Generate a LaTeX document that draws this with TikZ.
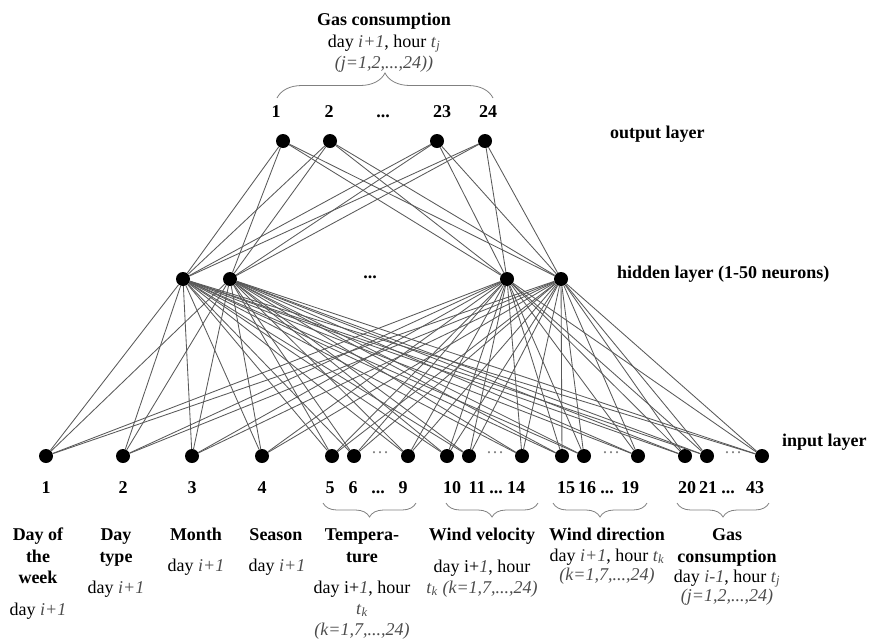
\documentclass[tikz,border=0pt]{standalone}
\usepackage{fontspec}
\setmainfont{Liberation Serif}
\usetikzlibrary{decorations.pathreplacing}
\definecolor{edgegray}{gray}{0.35}
\definecolor{itgray}{gray}{0.3}
\newcommand{\itg}[1]{\textcolor{itgray}{\textit{#1}}}
\newcommand{\thrdots}{...}
\begin{document}
\begin{tikzpicture}[x=1pt,y=-1pt,
  neuron/.style={circle,fill=black,inner sep=0pt,minimum size=14pt},
  conn/.style={draw=edgegray,line width=0.85pt},
  bl/.style={font=\fontsize{18}{21}\selectfont\bfseries,inner sep=0pt,anchor=base},
  tx/.style={font=\fontsize{18}{21}\selectfont,inner sep=0pt,anchor=base},
  lay/.style={font=\fontsize{18}{21}\selectfont\bfseries,inner sep=0pt,anchor=base west},
  gdots/.style={font=\fontsize{18}{21}\selectfont,text=gray,inner sep=0pt},
  brc/.style={draw=gray,line width=0.8pt,decorate,decoration={brace,amplitude=#1}}
]
\useasboundingbox (0,0) rectangle (869,641);

% output layer
\node[neuron] (o1) at (283,141) {};
\node[neuron] (o2) at (330,141) {};
\node[neuron] (o3) at (437,141) {};
\node[neuron] (o4) at (485,141) {};
% hidden layer
\node[neuron] (h1) at (183,279) {};
\node[neuron] (h2) at (230,279) {};
\node[neuron] (h3) at (507,279) {};
\node[neuron] (h4) at (561,279) {};
% input layer
\foreach \n/\x in {1/46,2/123,3/192,4/262,5/332,6/354,7/408,8/447,9/469,10/522,11/562,12/584,13/638,14/685,15/707,16/762}
  \node[neuron] (i\n) at (\x,456) {};

% connections
\foreach \o in {1,2,3,4}
  \foreach \h in {1,2,3,4}
    \draw[conn] (o\o) -- (h\h);
\foreach \h in {1,2,3,4}
  \foreach \i in {1,2,3,4,5,6,7,8,9,10,11,12,13,14,15,16}
    \draw[conn] (h\h) -- (i\i);

% dots in input row
\node[gdots] (d1) at (380,453) {\dots};
\node[gdots] (d2) at (495,453) {\dots};
\node[gdots] (d3) at (611,453) {\dots};
\node[gdots] (d4) at (733,453) {\dots};
\node[bl] (hd) at (370,278) {\thrdots};

% top title
\node[bl] (t1) at (384,25) {Gas consumption};
\node[tx] (t2) at (384,47) {day \itg{i+1}, hour \itg{t}\textsubscript{\itg{j}}};
\node[tx] (t3) at (384,68) {\itg{(j=1,2,\thrdots,24))}};
\draw[brc=25] (277,98) -- (493,98);

% output numbers
\node[bl] (on1) at (276,117) {1};
\node[bl] (on2) at (329,117) {2};
\node[bl] (on3) at (383,117) {\thrdots};
\node[bl] (on4) at (442,117) {23};
\node[bl] (on5) at (488,117) {24};

% layer labels
\node[lay] (lo) at (610,138) {output layer};
\node[lay] (lh) at (617,278) {hidden layer (1-50 neurons)};
\node[lay] (li) at (782,446) {input layer};

% input numbers
\foreach \t/\x in {1/46,2/123,3/192,4/262,5/330,6/353,9/403,10/452,11/477,14/516,15/566,16/587,19/630,20/687,21/708,43/755}
  \node[bl] at (\x,493) {\t};
\foreach \x in {378,496,607,728}
  \node[bl] at (\x,493) {\thrdots};

% bottom braces
\draw[brc=14] (416,503) -- (323,503);
\draw[brc=14] (538,503) -- (446,503);
\draw[brc=14] (647,503) -- (553,503);
\draw[brc=14] (769,503) -- (677,503);

% bottom labels
\node[bl] (a1) at (38,540) {Day of};
\node[bl] (a2) at (38,562) {the};
\node[bl] (a3) at (38,583) {week};
\node[tx] (a4) at (38,615) {day \itg{i+1}};

\node[bl] (b1) at (116,540) {Day};
\node[bl] (b2) at (116,562) {type};
\node[tx] (b3) at (116,593) {day \itg{i+1}};

\node[bl] (c1) at (196,540) {Month};
\node[tx] (c2) at (196,571) {day \itg{i+1}};

\node[bl] (e1) at (276,540) {Season};
\node[tx] (e2) at (277,571) {day \itg{i+1}};

\node[bl] (f1) at (362,540) {Tempera-};
\node[bl] (f2) at (362,562) {ture};
\node[tx] (f3) at (362,593) {day i+\itg{1}, hour};
\node[tx] (f4) at (362,614) {\itg{t}\textsubscript{\itg{k}}};
\node[tx] (f5) at (362,635) {\itg{(k=1,7,\thrdots,24)}};

\node[bl] (g1) at (482,540) {Wind velocity};
\node[tx] (g2) at (482,572) {day i+\itg{1}, hour};
\node[tx] (g3) at (482,593) {\itg{t}\textsubscript{\itg{k}} \itg{(k=1,7,\thrdots,24)}};

\node[bl] (w1) at (607,540) {Wind direction};
\node[tx] (w2) at (607,561) {day \itg{i+1}, hour \itg{t}\textsubscript{\itg{k}}};
\node[tx] (w3) at (607,580) {\itg{(k=1,7,\thrdots,24)}};

\node[bl] (q1) at (727,540) {Gas};
\node[bl] (q2) at (727,562) {consumption};
\node[tx] (q3) at (727,582) {day \itg{i-1}, hour \itg{t}\textsubscript{\itg{j}}};
\node[tx] (q4) at (727,601) {\itg{(j=1,2,\thrdots,24)}};
\end{tikzpicture}
\end{document}
